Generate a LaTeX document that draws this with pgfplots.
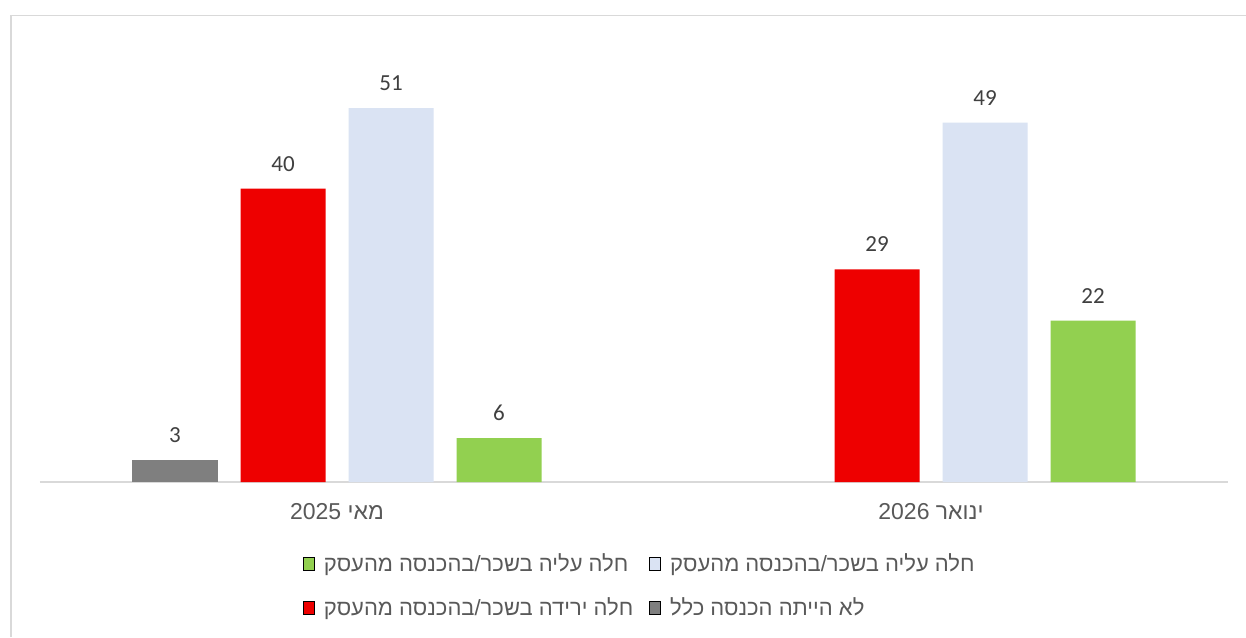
\documentclass[border=0pt]{standalone}
\usepackage{pgfplots}
\pgfplotsset{compat=1.18}
\usepackage{fontspec}
\setmainfont{Liberation Sans}
\newfontfamily\hebfont[Script=Hebrew]{Liberation Sans}
\newfontfamily\calfont{Carlito}
\TeXXeTstate=1
\definecolor{cgray}{HTML}{7F7F7F}
\definecolor{cred}{HTML}{EE0000}
\definecolor{cblue}{HTML}{DAE3F3}
\definecolor{cgreen}{HTML}{92D050}
\definecolor{ctext}{HTML}{595959}
\definecolor{clabel}{HTML}{404040}
\definecolor{cline}{HTML}{D9D9D9}
\begin{document}
\begin{tikzpicture}
\useasboundingbox (0,0) rectangle (623pt,318.5pt);
\fill[white] (0,0) rectangle (623pt,318.5pt);
\draw[cline, line width=0.8pt] (5.5pt,0) -- (5.5pt,310.75pt) -- (623pt,310.75pt);
\begin{axis}[
  at={(20pt,77.5pt)}, anchor=south west,
  scale only axis, width=594pt, height=220pt,
  xmin=-0.5, xmax=1.5, ymin=0, ymax=60,
  axis x line*=bottom, axis y line=none,
  x axis line style={cline, line width=1pt, -},
  xtick={0,1},
  xticklabels={{\hebfont\beginR מאי 2025\endR},{\hebfont\beginR ינואר 2026\endR}},
  xtick style={draw=none},
  xticklabel style={font=\fontsize{11.5}{13}\selectfont, text=ctext, yshift=-7pt},
  ytick=\empty,
  clip=false,
  /pgf/number format/assume math mode=true,
  nodes near coords,
  nodes near coords style={font=\calfont\fontsize{11.5}{14}\selectfont, text=clabel, anchor=south, inner sep=0pt, yshift=8.5pt},
  legend columns=2,
  legend cell align=left,
  legend image code/.code={\fill[#1] (0pt,-3.3pt) rectangle (5.5pt,3.3pt);},
  legend style={draw=none, fill=none, inner sep=0pt, outer sep=0pt,
    at={(0.2214,-0.163)}, anchor=north west,
    font=\fontsize{11}{12}\selectfont, text=ctext,
    nodes={inner sep=0pt},
    /tikz/every odd column/.style={column sep=4.5pt},
    /tikz/every even column/.style={column sep=8pt},
    row sep=11.5pt},
]
\addplot[ybar, bar width=42.5pt, bar shift=-81pt, fill=cgray, draw=none, forget plot,
  every node near coord/.append style={xshift=-81pt}] coordinates {(0,3)};
\addplot[ybar, bar width=42.5pt, bar shift=-27pt, fill=cred, draw=none, forget plot,
  every node near coord/.append style={xshift=-27pt}] coordinates {(0,40) (1,29)};
\addplot[ybar, bar width=42.5pt, bar shift=27pt, fill=cblue, draw=none, forget plot,
  every node near coord/.append style={xshift=27pt}] coordinates {(0,51) (1,49)};
\addplot[ybar, bar width=42.5pt, bar shift=81pt, fill=cgreen, draw=none, forget plot,
  every node near coord/.append style={xshift=81pt}] coordinates {(0,6) (1,22)};
\addlegendimage{fill=cgreen}
\addlegendentry{\hebfont\beginR חלה עליה בשכר/בהכנסה מהעסק\endR}
\addlegendimage{fill=cblue}
\addlegendentry{\hebfont\beginR חלה עליה בשכר/בהכנסה מהעסק\endR}
\addlegendimage{fill=cred}
\addlegendentry{\hebfont\beginR חלה ירידה בשכר/בהכנסה מהעסק\endR}
\addlegendimage{fill=cgray}
\addlegendentry{\hebfont\beginR לא הייתה הכנסה כלל\endR}
\end{axis}
\end{tikzpicture}
\end{document}
